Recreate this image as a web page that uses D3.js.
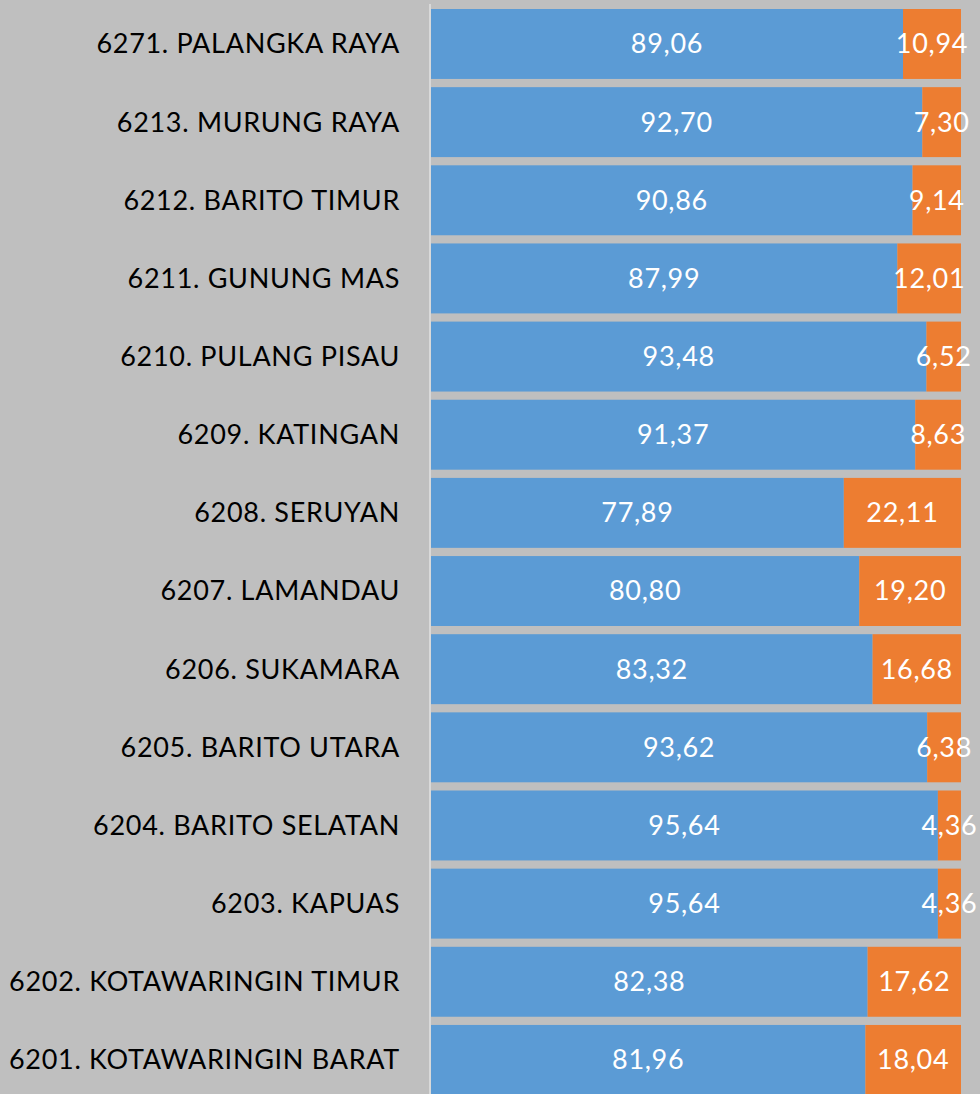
<!DOCTYPE html>
<html lang="en">
<head>
    <meta charset="UTF-8">
    <title>Stacked Bar</title>
    <script src="https://d3js.org/d3.v7.min.js"></script>
    <style>
        html, body { margin: 0; padding: 0; background: #bfbfbf; }
        svg { display: block; }
    </style>
</head>
<body>
    <svg id="chart"></svg>
    <script>
        const categories = [
            "6271. PALANGKA RAYA", "6213. MURUNG RAYA", "6212. BARITO TIMUR",
            "6211. GUNUNG MAS", "6210. PULANG PISAU", "6209. KATINGAN",
            "6208. SERUYAN", "6207. LAMANDAU", "6206. SUKAMARA",
            "6205. BARITO UTARA", "6204. BARITO SELATAN", "6203. KAPUAS",
            "6202. KOTAWARINGIN TIMUR", "6201. KOTAWARINGIN BARAT"
        ];
        const seriesA = [89.06, 92.70, 90.86, 87.99, 93.48, 91.37, 77.89, 80.80, 83.32, 93.62, 95.64, 95.64, 82.38, 81.96];
        const seriesB = [10.94, 7.30, 9.14, 12.01, 6.52, 8.63, 22.11, 19.20, 16.68, 6.38, 4.36, 4.36, 17.62, 18.04];
        const colors = ["#5b9bd5", "#ed7d31"];

        const width = 980, height = 1094;
        const svg = d3.select("#chart").attr("width", width).attr("height", height);

        const x = d3.scaleLinear().domain([0, 100]).range([431, 961]);
        const y = d3.scaleBand()
            .domain(categories)
            .range([4.9, 4.9 + 78.15 * categories.length])
            .paddingInner(0.105)
            .paddingOuter(0.0525);

        const font = "Lato, 'Open Sans', sans-serif";

        // axis line
        svg.append("line")
            .attr("x1", 430).attr("x2", 430)
            .attr("y1", 4).attr("y2", height)
            .attr("stroke", "#d9d9d9").attr("stroke-width", 2);

        const rows = categories.map((c, i) => ({ cat: c, a: seriesA[i], b: seriesB[i] }));

        const g = svg.append("g");
        rows.forEach(d => {
            const segs = [
                { x0: 0, x1: d.a, v: d.a, c: colors[0] },
                { x0: d.a, x1: d.a + d.b, v: d.b, c: colors[1] }
            ];
            segs.forEach(s => {
                g.append("rect")
                    .attr("x", x(s.x0))
                    .attr("y", y(d.cat))
                    .attr("width", x(s.x1) - x(s.x0))
                    .attr("height", y.bandwidth())
                    .attr("fill", s.c);
                g.append("text")
                    .attr("x", (x(s.x0) + x(s.x1)) / 2)
                    .attr("y", y(d.cat) + y.bandwidth() / 2)
                    .attr("dy", "0.35em")
                    .attr("text-anchor", "middle")
                    .attr("font-family", font)
                    .attr("font-size", "27px")
                    .attr("letter-spacing", "0.7px")
                    .attr("fill", "#ffffff")
                    .text(s.v.toFixed(2).replace(".", ","));
            });
        });

        // category labels
        svg.append("g").selectAll("text")
            .data(categories)
            .join("text")
            .attr("x", 400)
            .attr("y", d => y(d) + y.bandwidth() / 2)
            .attr("dy", "0.35em")
            .attr("text-anchor", "end")
            .attr("font-family", font)
            .attr("font-size", "27px")
            .attr("letter-spacing", "0.7px")
            .attr("fill", "#000000")
            .text(d => d);
    </script>
</body>
</html>
